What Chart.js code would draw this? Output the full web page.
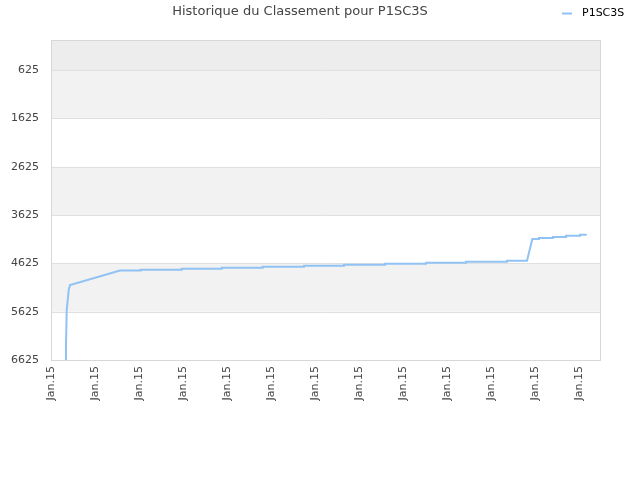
<!DOCTYPE html>
<html>
<head>
<meta charset="utf-8">
<script src="https://cdn.jsdelivr.net/npm/chart.js@4/dist/chart.umd.min.js"></script>
<style>
html,body{margin:0;padding:0;background:#fff;}
#wrap{width:640px;height:480px;}
</style>
</head>
<body>
<div id="wrap"><canvas id="c" width="640" height="480"></canvas></div>
<script>
// Data (x in label-interval units, y = rank)
const chartTitle = 'Historique du Classement pour P1SC3S';
const seriesName = 'P1SC3S';
const xTickLabel = 'Jan.15';
const xTickCount = 13;
const yTicks = [625, 1625, 2625, 3625, 4625, 5625, 6625];
const days = [0.334, 0.340, 0.357, 0.380, 0.402, 0.432, 1.568, 2.039, 2.039, 2.970, 2.970, 3.880, 3.880, 4.811, 4.811, 5.750, 5.750, 6.659, 6.659, 7.591, 7.591, 8.523, 8.523, 9.432, 9.432, 10.364, 10.364, 10.818, 10.939, 11.091, 11.091, 11.409, 11.409, 11.705, 11.705, 12.023, 12.023, 12.175];
const ranks = [6625, 6356, 5591, 5384, 5177, 5073, 4773, 4773, 4757, 4757, 4736, 4736, 4715, 4715, 4695, 4695, 4674, 4674, 4653, 4653, 4633, 4633, 4612, 4612, 4591, 4591, 4571, 4571, 4122, 4122, 4101, 4101, 4080, 4080, 4053, 4053, 4033, 4033];

const points = days.map((d, i) => ({x: d, y: ranks[i]}));
const lineColor = 'rgb(144,194,244)';

const bandsPlugin = {
  id: 'bands',
  beforeDatasetsDraw(chart) {
    const {ctx, chartArea: a, scales: {y}} = chart;
    ctx.save();
    const yFirst = y.getPixelForValue(yTicks[0]);
    ctx.fillStyle = '#ededed';
    ctx.fillRect(a.left, a.top, a.right - a.left, yFirst - a.top);
    for (let i = 0; i < yTicks.length - 1; i++) {
      if (i % 2 === 0) {
        const p1 = y.getPixelForValue(yTicks[i]);
        const p2 = y.getPixelForValue(yTicks[i + 1]);
        ctx.fillStyle = '#f2f2f2';
        ctx.fillRect(a.left, p1, a.right - a.left, p2 - p1);
      }
    }
    ctx.strokeStyle = '#e0e0e0';
    ctx.lineWidth = 1;
    yTicks.forEach(v => {
      const p = Math.round(y.getPixelForValue(v)) + 0.5;
      ctx.beginPath(); ctx.moveTo(a.left, p); ctx.lineTo(a.right, p); ctx.stroke();
    });
    ctx.strokeStyle = '#d8d8d8';
    ctx.strokeRect(Math.round(a.left) + 0.5, Math.round(a.top) + 0.5, Math.round(a.right - a.left), Math.round(a.bottom - a.top));
    ctx.restore();
  },
  afterDraw(chart) {
    const ctx = chart.ctx;
    ctx.save();
    ctx.strokeStyle = lineColor;
    ctx.lineWidth = 2;
    ctx.beginPath(); ctx.moveTo(562, 13.5); ctx.lineTo(572, 13.5); ctx.stroke();
    ctx.fillStyle = '#000';
    ctx.font = '11px "DejaVu Sans"';
    ctx.textBaseline = 'middle';
    ctx.textAlign = 'left';
    ctx.fillText(chart.data.datasets[0].label, 582, 13);
    ctx.restore();
  }
};

new Chart(document.getElementById('c'), {
  type: 'line',
  data: {
    datasets: [{
      label: seriesName,
      data: points,
      borderColor: lineColor,
      borderWidth: 2,
      pointRadius: 0,
      tension: 0,
      fill: false
    }]
  },
  options: {
    responsive: false,
    animation: false,
    layout: {padding: {left: 0, right: 40, top: 0, bottom: 0}},
    plugins: {
      legend: {display: false},
      tooltip: {enabled: false},
      title: {
        display: true,
        text: chartTitle,
        color: '#444',
        font: {family: 'DejaVu Sans', size: 13, weight: 'normal'},
        padding: {top: 4, bottom: 20.4}
      }
    },
    scales: {
      x: {
        type: 'linear',
        min: 0,
        max: 12.477,
        grid: {display: false, drawTicks: false},
        border: {display: false},
        afterBuildTicks(scale) {
          scale.ticks = Array.from({length: xTickCount}, (_, i) => ({value: i}));
        },
        afterFit(scale) { scale.height = 120; },
        ticks: {
          callback: () => xTickLabel,
          autoSkip: false,
          maxRotation: 90,
          minRotation: 90,
          padding: 6,
          color: '#444',
          font: {family: 'DejaVu Sans', size: 11}
        }
      },
      y: {
        type: 'linear',
        reverse: true,
        min: 1,
        max: 6625,
        grid: {display: false, drawTicks: false},
        border: {display: false},
        afterBuildTicks(scale) {
          scale.ticks = yTicks.map(v => ({value: v}));
        },
        afterFit(scale) { scale.width = 51; },
        ticks: {
          callback: v => String(v),
          padding: 12,
          color: '#444',
          font: {family: 'DejaVu Sans', size: 11}
        }
      }
    }
  },
  plugins: [bandsPlugin]
});
</script>
</body>
</html>
